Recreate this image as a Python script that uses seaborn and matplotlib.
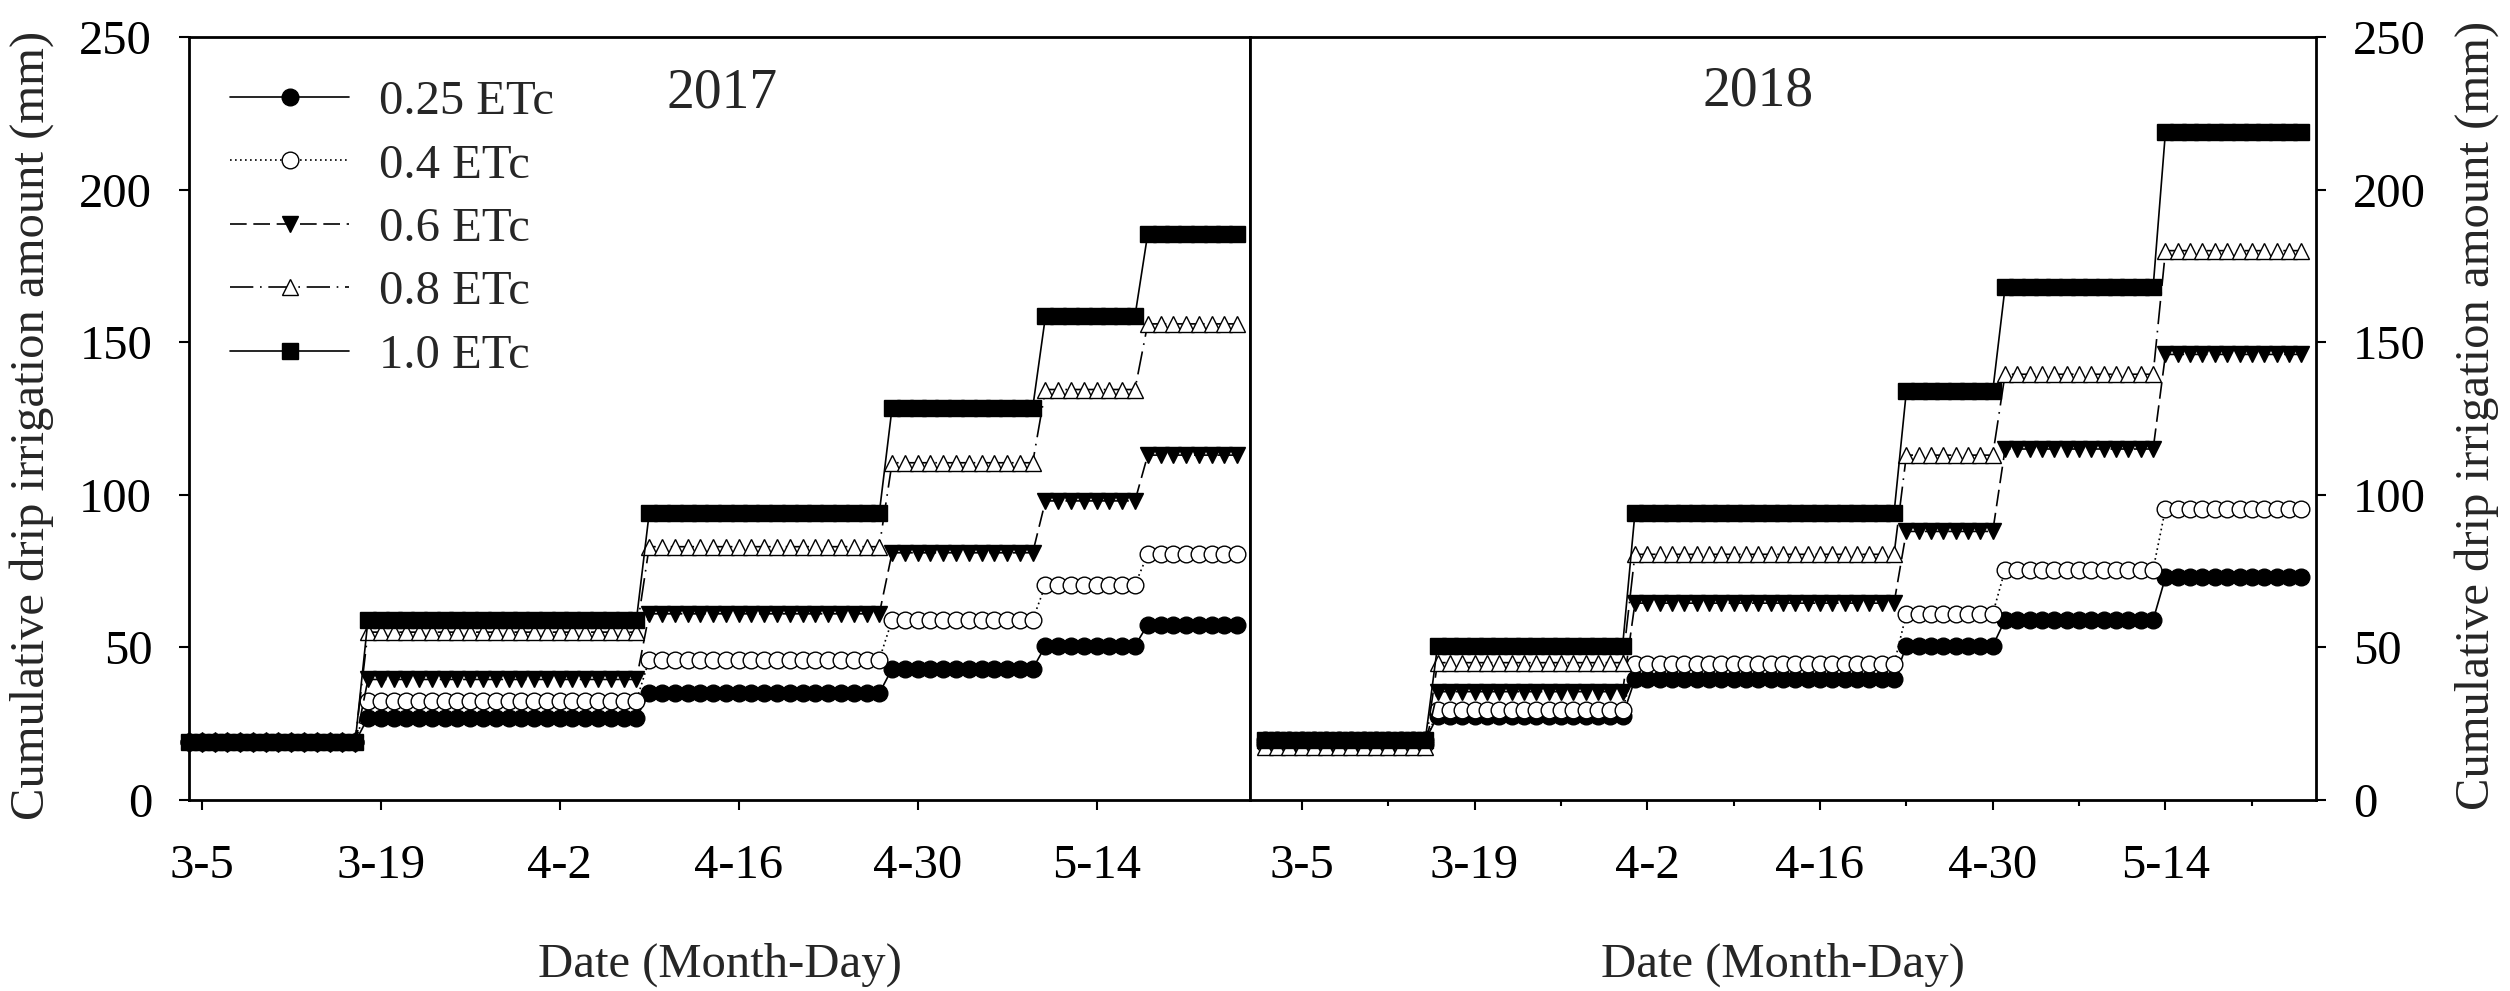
import numpy as np
import pandas as pd
import matplotlib
matplotlib.use("Agg")
import matplotlib.pyplot as plt
import seaborn as sns

# ---------------- data ----------------
treatments = ["0.25 ETc", "0.4 ETc", "0.6 ETc", "0.8 ETc", "1.0 ETc"]

# x axis: days after 5 March
tick_days = [0, 14, 28, 42, 56, 70]
tick_labels = ["3-5", "3-19", "4-2", "4-16", "4-30", "5-14"]

# irrigation periods (first and last day of each constant level)
period_start_2017 = [-1, 13, 35, 54, 66, 74]
period_end_2017 = [12, 34, 53, 65, 73, 81]
period_start_2018 = [-3, 11, 27, 49, 57, 70]
period_end_2018 = [10, 26, 48, 56, 69, 81]

# cumulative drip irrigation amount (mm) per period
levels_2017_025 = [19.0, 27.0, 35.0, 43.0, 50.5, 57.5]
levels_2017_04 = [19.0, 32.5, 46.0, 59.0, 70.5, 80.5]
levels_2017_06 = [18.5, 39.5, 61.0, 81.0, 98.0, 113.0]
levels_2017_08 = [19.5, 55.0, 83.0, 110.5, 134.5, 156.0]
levels_2017_10 = [19.0, 59.0, 94.0, 128.5, 158.5, 185.5]

levels_2018_025 = [19.5, 27.5, 39.5, 50.5, 59.0, 73.0]
levels_2018_04 = [18.5, 29.5, 44.5, 61.0, 75.5, 95.5]
levels_2018_06 = [18.0, 35.5, 64.5, 88.0, 115.0, 146.0]
levels_2018_08 = [17.5, 45.0, 80.5, 113.0, 139.5, 180.0]
levels_2018_10 = [19.5, 50.5, 94.0, 134.0, 168.0, 219.0]

levels_2017 = [levels_2017_025, levels_2017_04, levels_2017_06, levels_2017_08, levels_2017_10]
levels_2018 = [levels_2018_025, levels_2018_04, levels_2018_06, levels_2018_08, levels_2018_10]

# ---------------- styles ----------------
markers = ["o", "o", "v", "^", "s"]
faces = ["black", "white", "black", "white", "black"]
linestyles = ["-", (0, (1, 2)), (0, (10, 4)), (0, (14, 4, 1, 4)), "-"]


def daily_frame(starts, ends, levels):
    rows = []
    for name, lev in zip(treatments, levels):
        for s, e, v in zip(starts, ends, lev):
            for d in range(s, e + 1):
                rows.append((name, d, v))
    return pd.DataFrame(rows, columns=["treatment", "day", "amount"])


df2017 = daily_frame(period_start_2017, period_end_2017, levels_2017)
df2018 = daily_frame(period_start_2018, period_end_2018, levels_2018)

# ---------------- figure ----------------
sns.set_theme(style="ticks")
plt.rcParams["font.family"] = ["Liberation Serif", "DejaVu Serif"]
plt.rcParams["axes.linewidth"] = 2.0

W, H = 2510, 991
fig = plt.figure(figsize=(W / 100, H / 100), dpi=100)
fig.patch.set_facecolor("white")

L1, R1, R2 = 189, 1250, 2316
TOP, BOT = 37, 800
ax1 = fig.add_axes([L1 / W, 1 - BOT / H, (R1 - L1) / W, (BOT - TOP) / H])
ax2 = fig.add_axes([R1 / W, 1 - BOT / H, (R2 - R1) / W, (BOT - TOP) / H])

FS = 35

for ax, df in ((ax1, df2017), (ax2, df2018)):
    ax.set_facecolor("white")
    for i, name in enumerate(treatments):
        sub = df[df["treatment"] == name]
        sns.lineplot(data=sub, x="day", y="amount", ax=ax, color="black",
                     marker=markers[i], markersize=12, markerfacecolor=faces[i],
                     markeredgecolor="black", markeredgewidth=1.0,
                     linestyle=linestyles[i], linewidth=1.2,
                     estimator=None, errorbar=None, sort=False,
                     clip_on=False, label=name, legend=False)
    ax.set_ylim(0, 250)
    ax.set_yticks([0, 50, 100, 150, 200, 250])
    ax.set_xticks(tick_days)
    ax.set_xticklabels(tick_labels)
    ax.set_xlabel("")
    ax.set_ylabel("")
    for sp in ax.spines.values():
        sp.set_visible(True)
        sp.set_color("black")
        sp.set_linewidth(2.0)
    ax.tick_params(axis="both", which="major", direction="out", length=7.5,
                   width=1.5, colors="black", labelsize=FS)
    ax.tick_params(axis="x", pad=24)
    ax.tick_params(axis="y", pad=19)
    ax.grid(False)

ax1.set_xlim(-1, 82)
ax2.set_xlim(-4.2, 82.2)

ax2.set_xticks([7, 21, 35, 49, 63, 77], minor=True)
ax2.tick_params(axis="x", which="minor", direction="out", length=4, width=1.5, colors="black")
ax2.tick_params(axis="y", left=False, right=True, labelleft=False, labelright=True)

# legend
handles = ax1.get_lines()[:5]
leg = ax1.legend(handles=handles, labels=treatments, loc="upper left",
                 bbox_to_anchor=((230 - L1) / (R1 - L1), (BOT - 80) / (BOT - TOP)),
                 frameon=False, fontsize=FS, handlelength=2.45, handletextpad=0.62,
                 labelspacing=0.40, borderpad=0, borderaxespad=0, numpoints=1)

# panel titles
ax1.text((722 - L1) / (R1 - L1), (BOT - 107) / (BOT - TOP), "2017",
         transform=ax1.transAxes, ha="center", va="baseline", fontsize=40)
ax2.text((1758 - R1) / (R2 - R1), (BOT - 105) / (BOT - TOP), "2018",
         transform=ax2.transAxes, ha="center", va="baseline", fontsize=40)

# axis labels
ylab = "Cumulative drip irrigation amount (mm)"
fig.text(32 / W, 1 - 425 / H, ylab, rotation=90, ha="center", va="center", fontsize=FS)
fig.text(2477 / W, 1 - 415 / H, ylab, rotation=90, ha="center", va="center", fontsize=FS)
fig.text((L1 + R1) / 2 / W, 1 - 977 / H, "Date (Month-Day)", ha="center", va="baseline", fontsize=FS)
fig.text((R1 + R2) / 2 / W, 1 - 977 / H, "Date (Month-Day)", ha="center", va="baseline", fontsize=FS)

fig.savefig("out.png", dpi=100, facecolor="white")
